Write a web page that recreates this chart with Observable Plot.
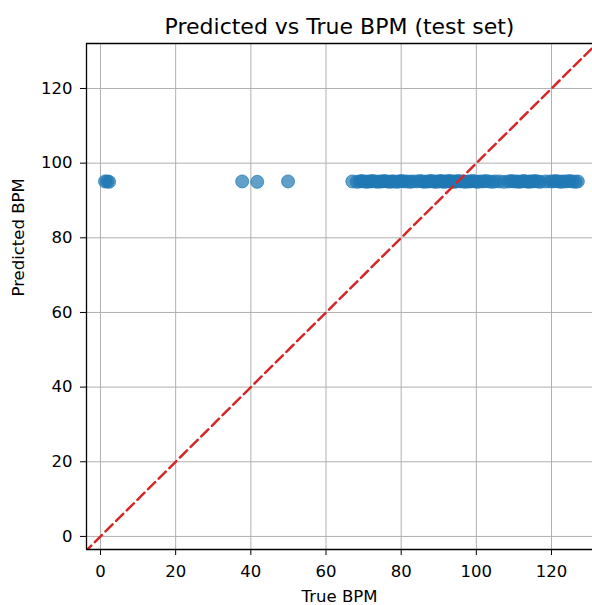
<!DOCTYPE html>
<html>
<head>
<meta charset="utf-8">
<script src="https://cdn.jsdelivr.net/npm/d3@7"></script>
<script src="https://cdn.jsdelivr.net/npm/@observablehq/plot@0.6"></script>
<style>
  html, body { margin: 0; padding: 0; background: #fff; overflow: hidden; }
  svg { display: block; }
</style>
</head>
<body>
<div id="chart"></div>
<script>
const titleText = "Predicted vs True BPM (test set)";
const xLabel = "True BPM";
const yLabel = "Predicted BPM";
const ticks = [0, 20, 40, 60, 80, 100, 120];

const trueBpm = [
  1.2, 1.8, 2.3, 37.7, 41.7, 49.9,
  67.0, 68.2, 69.0, 69.5, 70.1, 70.8, 71.3, 72.0, 72.4, 73.1,
  73.8, 74.5, 75.0, 75.6, 76.2, 76.9, 77.5, 78.0, 78.8, 79.4,
  80.0, 80.7, 81.5, 82.3, 83.0, 84.1, 85.0, 85.6, 86.2, 86.9,
  87.5, 88.0, 88.6, 89.1, 89.7, 90.2, 90.6, 91.0, 91.4, 91.9,
  92.3, 92.8, 93.2, 93.7, 94.1, 94.6, 95.2, 95.8, 96.5, 97.1,
  97.8, 98.4, 99.0, 99.7, 100.3, 101.0, 101.8, 102.5, 103.3, 104.2,
  105.0, 106.1, 107.4, 108.6, 109.3, 110.0, 110.7, 111.3, 112.0, 112.6,
  113.2, 113.9, 114.4, 115.0, 115.6, 116.3, 117.0, 118.4, 119.6, 120.4,
  121.1, 121.8, 122.5, 123.2, 124.0, 124.8, 125.6, 126.4, 127.0
];
const predictedBpm = [
  95.1, 95.1, 95.0, 95.1, 95.0, 95.1,
  95.1, 95.0, 95.1, 95.2, 95.1, 95.0, 95.1, 95.1, 95.2, 95.1,
  95.0, 95.1, 95.1, 95.2, 95.1, 95.0, 95.1, 95.1, 95.0, 95.1,
  95.2, 95.1, 95.1, 95.0, 95.1, 95.1, 95.2, 95.1, 95.0, 95.1,
  95.1, 95.2, 95.1, 95.0, 95.1, 95.1, 95.2, 95.1, 95.0, 95.1,
  95.1, 95.2, 95.1, 95.1, 95.0, 95.1, 95.2, 95.1, 95.1, 95.0,
  95.1, 95.1, 95.2, 95.1, 95.0, 95.1, 95.1, 95.2, 95.1, 95.0,
  95.1, 95.1, 95.0, 95.1, 95.2, 95.1, 95.1, 95.0, 95.1, 95.2,
  95.1, 95.0, 95.1, 95.1, 95.2, 95.1, 95.0, 95.1, 95.1, 95.1,
  95.2, 95.1, 95.0, 95.1, 95.1, 95.2, 95.1, 95.0, 95.1
];
const diagonal = [-10, 140];

const points = trueBpm.map((t, i) => ({t, p: predictedBpm[i]}));
const diag = diagonal.map(v => ({v}));

const xDomain = [-3.72, 130.9];
const yDomain = [-3.5, 132.05];

const chart = Plot.plot({
  width: 592,
  height: 605,
  marginTop: 43,
  marginBottom: 56,
  marginLeft: 86,
  marginRight: 0,
  style: {fontFamily: "DejaVu Sans, sans-serif", fontSize: "16.5px", color: "#000", background: "#fff"},
  x: {domain: xDomain, ticks: ticks, label: null},
  y: {domain: yDomain, ticks: ticks, label: null},
  marks: [
    Plot.gridX(ticks, {stroke: "#b0b0b0", strokeOpacity: 1, strokeWidth: 1}),
    Plot.gridY(ticks, {stroke: "#b0b0b0", strokeOpacity: 1, strokeWidth: 1}),
    Plot.dot(points, {x: "t", y: "p", r: 6.5, fill: "#1f77b4", fillOpacity: 0.7, stroke: "#1f77b4", strokeOpacity: 0.7, strokeWidth: 1}),
    Plot.line(diag, {x: "v", y: "v", stroke: "#d62728", strokeWidth: 2.5, strokeDasharray: "10,5", clip: true}),
    Plot.ruleX([xDomain[0]], {stroke: "#000", strokeWidth: 1.3}),
    Plot.ruleY([yDomain[0]], {stroke: "#000", strokeWidth: 1.3}),
    Plot.ruleY([yDomain[1]], {stroke: "#000", strokeWidth: 1.3}),
    Plot.axisX(ticks, {tickSize: 6, tickPadding: 10, fontSize: 16.5, label: null}),
    Plot.axisY(ticks, {tickSize: 6, tickPadding: 8, fontSize: 16.5, label: null}),
    Plot.text([titleText], {frameAnchor: "top", dy: -17, fontSize: 22, fill: "#000", lineAnchor: "middle"}),
    Plot.text([xLabel], {frameAnchor: "bottom", dy: 47.5, fontSize: 16.5, fill: "#000", lineAnchor: "middle"}),
    Plot.text([yLabel], {frameAnchor: "left", dx: -67.3, rotate: -90, fontSize: 16.5, fill: "#000", lineAnchor: "middle"})
  ]
});
document.getElementById("chart").appendChild(chart);
</script>
</body>
</html>
